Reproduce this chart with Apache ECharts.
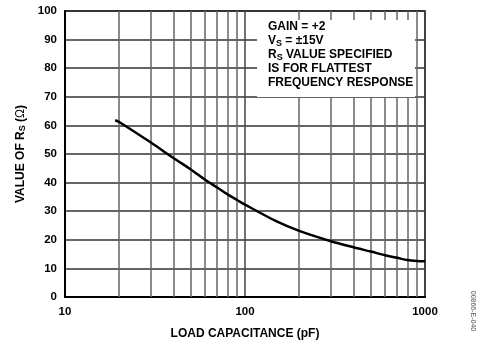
<!DOCTYPE html>
<html>
<head>
<meta charset="utf-8">
<script src="https://cdn.jsdelivr.net/npm/echarts@6/dist/echarts.min.js"></script>
<style>
  html, body { margin: 0; padding: 0; background: #fff; }
  #chart { width: 481px; height: 350px; }
</style>
</head>
<body>
<div id="chart"></div>
<script>
// Load capacitance (pF) and recommended series resistance (Ω)
const capacitance = [19, 20, 30, 40, 50, 60, 70, 80, 90, 100, 150, 200, 300, 400, 500, 600, 700, 800, 900, 1000];
const rsValues    = [61.8, 61.2, 54.0, 48.6, 44.6, 41.0, 38.3, 35.9, 34.0, 32.3, 26.4, 23.1, 19.5, 17.4, 15.9, 14.6, 13.7, 12.9, 12.6, 12.5];

// Decade grid lines between the labelled ticks
const minorGrid = [20, 30, 40, 50, 60, 70, 80, 90, 200, 300, 400, 500, 600, 700, 800, 900];
const yTicks = { min: 0, max: 100, interval: 10 };

const FONT = 'Liberation Sans, Arial, sans-serif';

const chart = echarts.init(document.getElementById('chart'), null, { renderer: 'canvas' });

chart.setOption({
  animation: false,
  backgroundColor: '#fff',
  grid: {
    left: 65, right: 56, top: 11, bottom: 53,
    show: true, borderColor: '#000', borderWidth: 1.5
  },
  xAxis: {
    type: 'log', logBase: 10, min: 10, max: 1000,
    name: 'LOAD CAPACITANCE (pF)',
    nameLocation: 'middle', nameGap: 31,
    nameTextStyle: { fontFamily: FONT, fontWeight: 'bold', fontSize: 12, color: '#000' },
    axisLine: { show: true, lineStyle: { color: '#000', width: 2 } },
    axisTick: { show: false },
    axisLabel: {
      fontFamily: FONT, fontWeight: 'bold', fontSize: 11.5, color: '#000', margin: 9,
      formatter: v => String(Math.round(v))
    },
    splitLine: { show: true, lineStyle: { color: '#444', width: 1.5 } },
    minorTick: { show: false },
    minorSplitLine: { show: false }
  },
  yAxis: {
    type: 'value', min: yTicks.min, max: yTicks.max, interval: yTicks.interval,
    name: '{t|VALUE OF R}{s|S}{t| (}{o|Ω}{t|)}',
    nameLocation: 'middle', nameGap: 38, nameRotate: 90,
    nameTextStyle: {
      rich: {
        t: { fontFamily: FONT, fontWeight: 'bold', fontSize: 12, color: '#000' },
        s: { fontFamily: FONT, fontWeight: 'bold', fontSize: 9, color: '#000', verticalAlign: 'bottom', padding: [4, 0, 0, 0] },
        o: { fontFamily: FONT, fontWeight: 'normal', fontSize: 12, color: '#000' }
      }
    },
    axisLine: { show: true, lineStyle: { color: '#000', width: 2 } },
    axisTick: { show: false },
    axisLabel: { fontFamily: FONT, fontWeight: 'bold', fontSize: 11.5, color: '#000', margin: 8 },
    splitLine: { show: true, lineStyle: { color: '#333', width: 1.5 } }
  },
  series: [
    {
      type: 'line',
      data: capacitance.map((c, i) => [c, rsValues[i]]),
      smooth: 0.3,
      symbol: 'none',
      lineStyle: { color: '#000', width: 2.5 },
      z: 5,
      markLine: {
        silent: true,
        symbol: 'none',
        label: { show: false },
        lineStyle: { color: '#666', width: 1.5, type: 'solid' },
        data: minorGrid.map(v => ({ xAxis: v })),
        z: 1
      }
    }
  ],
  graphic: [
    {
      type: 'rect', z: 10,
      shape: { x: 257, y: 20, width: 158, height: 77 },
      style: { fill: '#fff' }
    },
    {
      type: 'text', z: 11, left: 268, top: 21,
      style: {
        text: '{t|GAIN = +2}\n{t|V}{s|S}{t| = ±15V}\n{t|R}{s|S}{t| VALUE SPECIFIED}\n{t|IS FOR FLATTEST}\n{t|FREQUENCY RESPONSE}',
        rich: {
          t: { fontFamily: FONT, fontWeight: 'bold', fontSize: 12, color: '#000', lineHeight: 14 },
          s: { fontFamily: FONT, fontWeight: 'bold', fontSize: 9, color: '#000', lineHeight: 14, verticalAlign: 'bottom', padding: [5, 0, 0, 0] }
        }
      }
    },
    {
      type: 'text', z: 11,
      x: 473, y: 311, rotation: -Math.PI / 2,
      style: {
        text: '00866-E-040',
        fontFamily: FONT, fontSize: 7, fill: '#555',
        align: 'center', verticalAlign: 'middle'
      }
    }
  ]
});
</script>
</body>
</html>
